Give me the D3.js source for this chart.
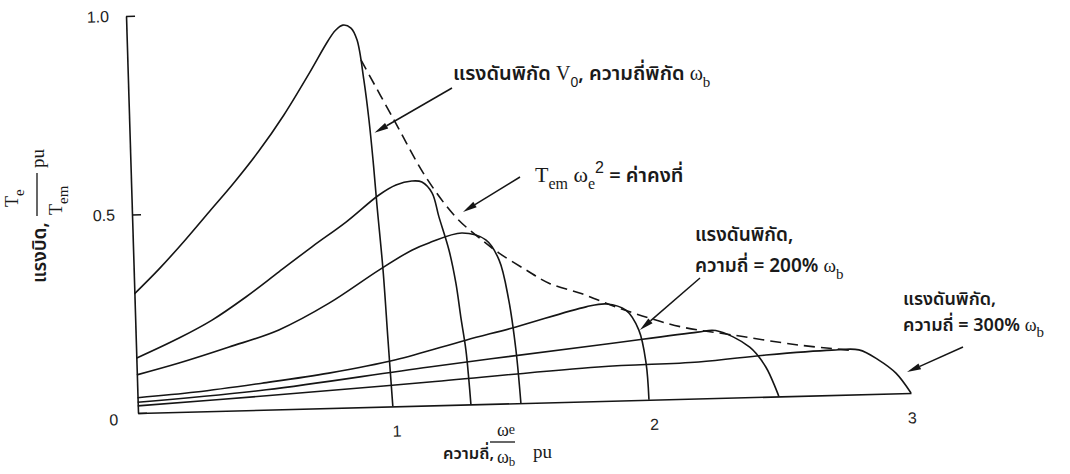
<!DOCTYPE html>
<html><head><meta charset="utf-8">
<script src="https://cdn.jsdelivr.net/npm/d3@7"></script>
<style>
body{margin:0;background:#fff;}
svg{display:block;}
.thai{font-family:"Noto Sans Thai","Noto Sans Thai Looped","Loma","Garuda","Norasi","DejaVu Sans",sans-serif;font-weight:600;}
.num{font-family:"Liberation Sans","DejaVu Sans",sans-serif;}
.math{font-family:"Liberation Serif","DejaVu Serif",serif;}
</style></head><body>
<svg id="chart" width="1070" height="474"></svg>
<script>
// Torque-speed curves of an induction motor fed at rated voltage,
// one curve per supply frequency. Points are [speed pu, torque pu].
const freqLabels = ["1", "2", "3"];
const xTicks = [1, 2, 3];
const yTicks = [0, 0.5, 1.0];

const curveF100 = [[0,0.30],[0.1,0.362],[0.2,0.430],[0.3,0.502],[0.4,0.574],[0.5,0.652],[0.6,0.740],[0.7,0.840],[0.78,0.924],[0.81,0.950],[0.840,0.963],[0.871,0.955],[0.893,0.925],[0.915,0.823],[0.930,0.723],[0.941,0.622],[0.951,0.508],[0.967,0.344],[0.978,0.168],[0.989,0]];
const curveF130 = [[0,0.138],[0.168,0.186],[0.298,0.229],[0.432,0.285],[0.563,0.346],[0.694,0.407],[0.829,0.467],[0.96,0.533],[1.027,0.557],[1.089,0.566],[1.128,0.563],[1.166,0.535],[1.19,0.474],[1.225,0.39],[1.248,0.306],[1.263,0.221],[1.279,0.137],[1.287,0.061],[1.292,0]];
const curveF150 = [[0,0.096],[0.165,0.123],[0.361,0.16],[0.556,0.2],[0.754,0.264],[0.951,0.344],[1.081,0.392],[1.148,0.409],[1.277,0.432],[1.369,0.413],[1.418,0.362],[1.451,0.26],[1.473,0.134],[1.486,0]];
const curveF200 = [[0,0.0385],[0.227,0.049],[0.484,0.067],[0.745,0.088],[1.006,0.117],[1.28,0.162],[1.476,0.192],[1.75,0.238],[1.83,0.244],[1.904,0.227],[1.952,0.176],[1.976,0.093],[1.983,0]];
const curveF250 = [[0,0.027],[0.5,0.05],[1.135,0.097],[1.795,0.141],[2.18,0.167],[2.25,0.170],[2.38,0.126],[2.44,0.075],[2.487,0]];
const curveF300 = [[0,0.018],[0.5,0.035],[1.134,0.059],[1.79,0.086],[2.18,0.092],[2.442,0.105],[2.698,0.113],[2.803,0.112],[2.879,0.085],[2.944,0.051],[3.0,0]];
// locus of breakdown torque, T_em * w_e^2 = constant
const breakdownLocus = [[0.906,0.874],[1.027,0.721],[1.144,0.575],[1.256,0.472],[1.354,0.413],[1.419,0.379],[1.521,0.335],[1.609,0.300],[1.736,0.271],[1.865,0.236],[1.992,0.206],[2.119,0.181],[2.312,0.158],[2.571,0.128],[2.764,0.112]];

const curves = [curveF100, curveF130, curveF150, curveF200, curveF250, curveF300];

const svg = d3.select("#chart");
const ink = "#151515";

const x = d3.scaleLinear().domain([0, 3]).range([0, 773]);
const y = d3.scaleLinear().domain([0, 1]).range([397, 0]);

// the printed axes lean a little: baseline climbs to the right, vertical axis tips back
const M = {a: 1, b: -0.02587, c: 0.03023, d: 1, e: 126, f: 16};
const toScreen = (f, t) => {
  const u = x(f), v = y(t);
  return [M.a * u + M.c * v + M.e, M.b * u + M.d * v + M.f];
};

const plot = svg.append("g")
  .attr("transform", `matrix(${M.a},${M.b},${M.c},${M.d},${M.e},${M.f})`);

// axes
const xAxis = d3.axisBottom(x).tickValues(xTicks).tickSize(0).tickPadding(19)
  .tickFormat((d, i) => freqLabels[i]);
const yAxis = d3.axisLeft(y).tickValues(yTicks).tickSizeInner(-9).tickSizeOuter(0).tickPadding(17)
  .tickFormat(d => d === 0 ? "0" : d3.format(".1f")(d));

const gx = plot.append("g").attr("transform", `translate(0,${y(0)})`).call(xAxis);
const gy = plot.append("g").call(yAxis);
[gx, gy].forEach(g => {
  g.attr("font-size", null).attr("font-family", null);
  g.selectAll("path.domain, line").attr("stroke", ink).attr("stroke-width", 1.6);
  g.selectAll("text").attr("class", "num").attr("fill", "#222").style("font-size", "16px");
});
gy.selectAll(".tick text").filter(d => d === 0).attr("dy", "0.7em").attr("x", -20);

const line = d3.line().x(d => x(d[0])).y(d => y(d[1])).curve(d3.curveCatmullRom.alpha(0.5));

plot.append("g").selectAll("path").data(curves).join("path")
  .attr("d", line).attr("fill", "none").attr("stroke", ink)
  .attr("stroke-width", 1.6).attr("stroke-linejoin", "round");

plot.append("path").datum(breakdownLocus).attr("d", line)
  .attr("fill", "none").attr("stroke", ink).attr("stroke-width", 1.6)
  .attr("stroke-dasharray", "11,6");

// rich text helper: segments of {t, c (class), s ("sub"|"sup"|number), fs}
function rich(parent, px, py, segs, base) {
  const t = parent.append("text").attr("x", px).attr("y", py)
    .attr("fill", "#1a1a1a").style("font-size", base + "px");
  let shift = 0;
  segs.forEach(sg => {
    const sp = t.append("tspan").text(sg.t).attr("class", sg.c || "thai");
    let target = sg.s === "sub" ? base * 0.35 : sg.s === "sup" ? -base * 0.45 : (typeof sg.s === "number" ? sg.s : 0);
    sp.attr("dy", target - shift);
    shift = target;
    if (sg.fs) sp.style("font-size", sg.fs + "px");
  });
  return t;
}

// arrows pointing at curves
function arrow(tail, tipData) {
  const tip = toScreen(tipData[0], tipData[1]);
  const dx = tip[0] - tail[0], dy = tip[1] - tail[1];
  const L = Math.hypot(dx, dy), ux = dx / L, uy = dy / L;
  const hl = 14, hw = 3.2;
  const bx = tip[0] - ux * hl, by = tip[1] - uy * hl;
  svg.append("line").attr("x1", tail[0]).attr("y1", tail[1]).attr("x2", bx).attr("y2", by)
    .attr("stroke", ink).attr("stroke-width", 1.5);
  svg.append("path")
    .attr("d", `M${tip[0]},${tip[1]}L${bx - uy * hw},${by + ux * hw}L${bx + uy * hw},${by - ux * hw}Z`)
    .attr("fill", ink);
}

arrow([452, 88], [0.95, 0.69]);
arrow([520, 177], [1.284, 0.485]);
arrow([700, 278], [1.956, 0.176]);
arrow([963, 347], [2.987, 0.053]);

// annotations
rich(svg, 453, 80, [
  {t: "แรงดันพิกัด "}, {t: "V", c: "math"}, {t: "0", c: "num", s: "sub", fs: 14},
  {t: ", ความถี่พิกัด "}, {t: "ω", c: "math"}, {t: "b", c: "math", s: "sub", fs: 15}
], 20);

rich(svg, 535, 182, [
  {t: "T", c: "math", fs: 22}, {t: "em", c: "math", s: "sub", fs: 16}, {t: " ω", c: "math", fs: 22},
  {t: "e", c: "math", s: "sub", fs: 16}, {t: "2", c: "num", s: "sup", fs: 16},
  {t: " = ค่าคงที่"}
], 20);

rich(svg, 695, 241, [{t: "แรงดันพิกัด,"}], 19);
rich(svg, 695, 272, [{t: "ความถี่ = 200% "}, {t: "ω", c: "math"}, {t: "b", c: "math", s: "sub", fs: 15}], 19);
rich(svg, 903, 305, [{t: "แรงดันพิกัด,"}], 18);
rich(svg, 903, 331, [{t: "ความถี่ = 300% "}, {t: "ω", c: "math"}, {t: "b", c: "math", s: "sub", fs: 15}], 18);

// x-axis title: frequency, w_e / w_b pu
const xt = svg.append("g");
rich(xt, 443, 459, [{t: "ความถี่,"}], 16.5);
rich(xt, 497, 436, [{t: "ω", c: "math"}, {t: "e", c: "math", s: -2, fs: 14}], 18);
xt.append("line").attr("x1", 490).attr("x2", 515).attr("y1", 442).attr("y2", 442).attr("stroke", ink).attr("stroke-width", 1.3);
rich(xt, 497, 463, [{t: "ω", c: "math"}, {t: "b", c: "math", s: 3, fs: 13}], 18);
rich(xt, 533, 458, [{t: "pu", c: "math"}], 19);

// y-axis title: torque, T_e / T_em pu (reads bottom to top)
const yt = svg.append("g").attr("transform", "rotate(-90)");
rich(yt, -283, 46, [{t: "แรงบิด,"}], 19);
rich(yt, -207, 18, [{t: "T", c: "math"}, {t: "e", c: "math", s: "sub", fs: 15}], 18);
yt.append("line").attr("x1", -216).attr("x2", -173).attr("y1", 37).attr("y2", 37).attr("stroke", ink).attr("stroke-width", 1.3);
rich(yt, -215, 62, [{t: "T", c: "math"}, {t: "em", c: "math", s: "sub", fs: 15}], 18);
rich(yt, -168, 44, [{t: "pu", c: "math"}], 19);
</script>
</body></html>
